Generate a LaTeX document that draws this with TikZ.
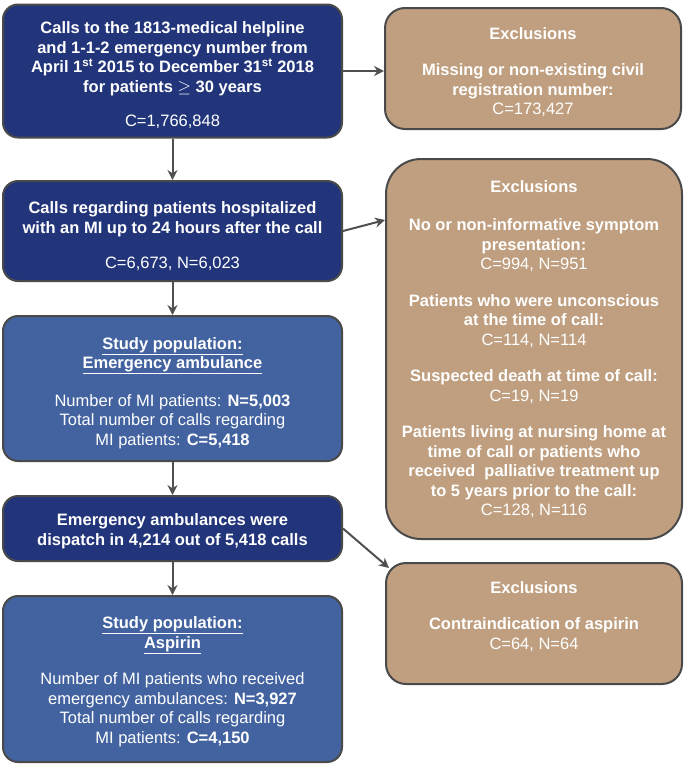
\documentclass[tikz,border=0pt]{standalone}
\usepackage{fontspec}
\setmainfont{Liberation Sans}
\usetikzlibrary{arrows.meta}
\definecolor{navy}{HTML}{22357A}
\definecolor{midblue}{HTML}{4262A0}
\definecolor{tanbox}{HTML}{BF9F7F}
\definecolor{edge}{HTML}{4A4A4A}
\definecolor{arrowcol}{HTML}{505050}
\newcommand\topgap[1]{\rule{0pt}{#1}}
\begin{document}
\begin{tikzpicture}[x=1pt,y=-1pt,
  box/.style={draw=edge, line width=2pt, rounded corners=15pt, align=center,
    inner sep=0pt, text=white, font=\fontsize{16.5}{19.5}\selectfont, anchor=center},
  darkbox/.style={box, fill=navy},
  midbox/.style={box, fill=midblue},
  exbox/.style={box, fill=tanbox},
  conn/.style={draw=arrowcol, line width=2pt, -{Stealth[length=10pt,width=10pt]}}
]
\useasboundingbox (0,0) rectangle (685,766);

\node[darkbox, minimum width=339pt, minimum height=133pt] (A) at (172.5,71)
 {\topgap{21pt}\textbf{Calls to the 1813-medical helpline}\\
  \textbf{and 1-1-2 emergency number from}\\
  \textbf{April 1\textsuperscript{st} 2015 to December 31\textsuperscript{st} 2018}\\
  \textbf{for patients} $\geq$ \textbf{30 years}\\[15pt]
  C=1,766,848};

\node[darkbox, minimum width=339pt, minimum height=100pt] (B) at (172.5,231)
 {\topgap{23pt}\textbf{Calls regarding patients hospitalized}\\
  \textbf{with an MI up to 24 hours after the call}\\[16pt]
  C=6,673, N=6,023};

\node[midbox, minimum width=339pt, minimum height=145pt] (C) at (172.5,388.5)
 {\topgap{21pt}\textbf{\underline{Study population:}}\\
  \textbf{\underline{Emergency ambulance}}\\[18pt]
  Number of MI patients: \textbf{N=5,003}\\
  Total number of calls regarding\\
  MI patients: \textbf{C=5,418}};

\node[darkbox, minimum width=339pt, minimum height=65pt] (D) at (172.5,528.5)
 {\topgap{17pt}\textbf{Emergency ambulances were}\\
  \textbf{dispatch in 4,214 out of 5,418 calls}};

\node[midbox, minimum width=339pt, minimum height=166pt] (E) at (172.5,679)
 {\topgap{17pt}\textbf{\underline{Study population:}}\\
  \textbf{\underline{Aspirin}}\\[17pt]
  Number of MI patients who received\\
  emergency ambulances: \textbf{N=3,927}\\
  Total number of calls regarding\\
  MI patients: \textbf{C=4,150}};

\node[exbox, rounded corners=20pt, minimum width=296pt, minimum height=121pt] (X1) at (533,68.5)
 {\topgap{19pt}\textbf{Exclusions}\\[17pt]
  \textbf{Missing or non-existing civil}\\
  \textbf{registration number:}\\
  C=173,427};

\node[exbox, rounded corners=35pt, minimum width=296pt, minimum height=380pt] (X2) at (534,349)
 {\textbf{Exclusions}\\[19pt]
  \textbf{No or non-informative symptom}\\
  \textbf{presentation:}\\
  C=994, N=951\\[17pt]
  \textbf{Patients who were unconscious}\\
  \textbf{at the time of call:}\\
  C=114, N=114\\[17pt]
  \textbf{Suspected death at time of call:}\\
  C=19, N=19\\[17pt]
  \textbf{Patients living at nursing home at}\\
  \textbf{time of call or patients who}\\
  \textbf{received\ \ palliative treatment up}\\
  \textbf{to 5 years prior to the call:}\\
  C=128, N=116};

\node[exbox, rounded corners=20pt, minimum width=296pt, minimum height=121pt] (X3) at (534,623.5)
 {\topgap{15pt}\textbf{Exclusions}\\[17pt]
  \textbf{Contraindication of aspirin}\\
  C=64, N=64\\[0pt]\rule{0pt}{17pt}};

\draw[conn] (A.south) -- (B.north);
\draw[conn] (B.south) -- (C.north);
\draw[conn] (C.south) -- (D.north);
\draw[conn] (D.south) -- (E.north);
\draw[conn] (A.east) -- (A.east -| X1.west);
\draw[conn] (B.east) -- ([yshift=129pt]X2.west);
\draw[conn] (D.east) -- ([xshift=4pt,yshift=-6pt]X3.north west);
\end{tikzpicture}
\end{document}
